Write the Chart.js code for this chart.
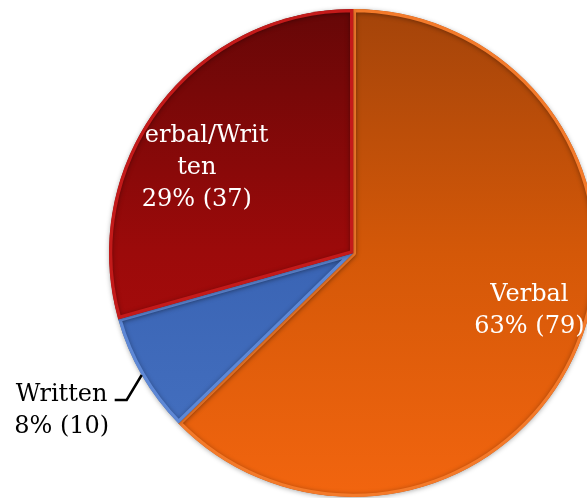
<!DOCTYPE html>
<html>
<head>
<meta charset="utf-8">
<script src="https://cdn.jsdelivr.net/npm/chart.js@4.4.1/dist/chart.umd.min.js"></script>
<style>
  html, body { margin: 0; padding: 0; background: #ffffff; overflow: hidden; width: 587px; height: 498px; }
  #wrap { position: absolute; left: 0; top: 0; width: 706px; height: 506px; }
</style>
</head>
<body>
<div id="wrap"><canvas id="c" width="706" height="506"></canvas></div>
<script>
// ---- data ----
const categories = ['Verbal', 'Written', 'Verbal/Written'];
const counts = [79, 10, 37];
// label lines as wrapped in the picture; the first letter of the
// Verbal/Written label is hidden in the picture (hiddenLead = chars not shown)
const labelNames = [['Verbal'], ['Written'], ['Verbal/Writ', 'ten']];
const hiddenLead = [0, 0, 1];

// ---- styles ----
const gradStops = [
  ['#a4440a', '#d45808', '#f2650f'],
  ['#2f5aa8', '#3a64b4', '#4672c2'],
  ['#660707', '#9c0a0a', '#b40e0e']
];
const rimColors = ['#f47a2a', '#5e88d6', '#c41a1a'];
const labelFont = '24px "DejaVu Serif", serif';

function makeGrad(ctx, area, stops) {
  const g = ctx.createLinearGradient(0, area.top, 0, area.bottom);
  g.addColorStop(0, stops[0]);
  g.addColorStop(0.5, stops[1]);
  g.addColorStop(1, stops[2]);
  return g;
}

const total = counts.reduce((a, b) => a + b, 0);

function drawLines(ctx, lines, cx, cy, lh, lead) {
  lines.forEach((t, k) => {
    const y = cy + (k - (lines.length - 1) / 2) * lh;
    if (k === 0 && lead > 0) {
      const full = ctx.measureText(t).width;
      const skip = ctx.measureText(t.slice(0, lead)).width;
      ctx.textAlign = 'left';
      ctx.fillText(t.slice(lead), cx - full / 2 + skip, y);
      ctx.textAlign = 'center';
    } else {
      ctx.fillText(t, cx, y);
    }
  });
}

const labelPlugin = {
  id: 'sliceLabels',
  afterDatasetsDraw(chart) {
    const ctx = chart.ctx;
    const meta = chart.getDatasetMeta(0);
    ctx.save();
    ctx.font = labelFont;
    ctx.textAlign = 'center';
    ctx.textBaseline = 'middle';
    const lh = 32;
    meta.data.forEach((arc, i) => {
      const p = arc.getProps(['x', 'y', 'startAngle', 'endAngle', 'outerRadius'], true);
      const R = p.outerRadius;
      const pct = Math.round(counts[i] / total * 100) + '% (' + counts[i] + ')';
      const lines = labelNames[i].concat([pct]);
      if (i === 1) {
        // outside label with leader line
        const mid = (p.startAngle + p.endAngle) / 2;
        const ex = p.x + Math.cos(mid) * R;
        const ey = p.y + Math.sin(mid) * R;
        ctx.strokeStyle = '#000';
        ctx.lineWidth = 2.5;
        ctx.beginPath();
        ctx.moveTo(ex, ey);
        ctx.lineTo(ex - 15, ey + 25);
        ctx.lineTo(ex - 27, ey + 25);
        ctx.stroke();
        ctx.fillStyle = '#000';
        drawLines(ctx, lines, ex - 80, ey + 36, lh, hiddenLead[i]);
      } else {
        const rel = i === 0 ? [0.723, 0.238] : [-0.64, -0.348];
        ctx.fillStyle = '#ffffff';
        drawLines(ctx, lines, p.x + rel[0] * R, p.y + rel[1] * R, lh, hiddenLead[i]);
      }
    });
    ctx.restore();
  }
};

const shadowPlugin = {
  id: 'pieShadow',
  beforeDatasetsDraw(chart) {
    const ctx = chart.ctx;
    ctx.save();
    ctx.shadowColor = 'rgba(0,0,0,0.35)';
    ctx.shadowBlur = 5;
    ctx.shadowOffsetY = 1;
  },
  afterDatasetsDraw(chart) {
    chart.ctx.restore();
  }
};

new Chart(document.getElementById('c'), {
  type: 'pie',
  data: {
    labels: categories,
    datasets: [{
      data: counts,
      backgroundColor(context) {
        const area = context.chart.chartArea;
        if (!area) return gradStops[context.dataIndex][1];
        return makeGrad(context.chart.ctx, area, gradStops[context.dataIndex]);
      },
      borderColor: rimColors,
      borderWidth: 3,
      borderAlign: 'inner'
    }]
  },
  options: {
    responsive: false,
    animation: false,
    layout: { padding: 9 },
    plugins: {
      legend: { display: false },
      tooltip: { enabled: false },
      title: { display: false }
    }
  },
  plugins: [shadowPlugin, labelPlugin]
});
</script>
</body>
</html>
